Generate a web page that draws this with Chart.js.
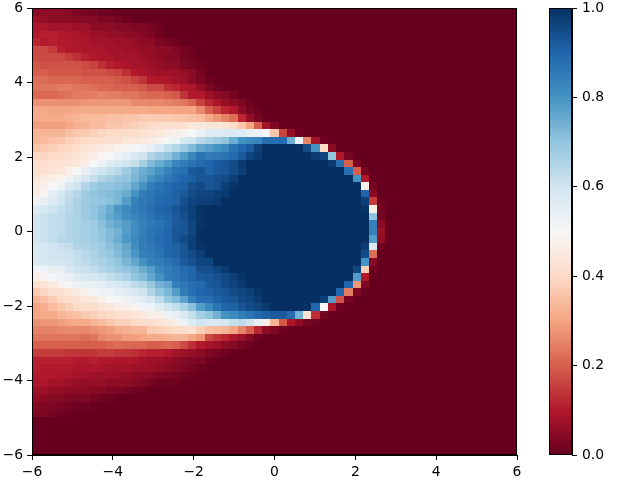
<!DOCTYPE html>
<html><head><meta charset="utf-8">
<style>html,body{margin:0;padding:0;background:#fff}canvas{position:absolute;left:0;top:0}</style>
<script src="https://cdn.jsdelivr.net/npm/chart.js@4"></script>
</head><body>
<canvas id="heat" width="640" height="480"></canvas>
<canvas id="bar" width="640" height="480"></canvas>
<script>
const xTicks=[-6,-4,-2,0,2,4,6];
const yTicks=[-6,-4,-2,0,2,4,6];
const cbTicks=[0,0.2,0.4,0.6,0.8,1];
const cmapStops=['#67001f','#b2182b','#d6604d','#f4a582','#fddbc7','#f7f7f7','#d1e5f0','#92c5de','#4393c3','#2166ac','#053061'];
const nCols=59,nRows=59;
// columns 0..20, rows listed from the top of the picture
const zLeft=[
[.05,.05,.05,.05,.04,.03,.02,.02,.01,.01],
[.07,.06,.05,.05,.05,.04,.04,.04,.03,.03,.02,.01],
[.09,.09,.08,.08,.08,.07,.07,.05,.05,.05,.04,.04,.03,.03,.02,.01],
[.10,.11,.11,.10,.09,.09,.08,.07,.07,.06,.06,.05,.05,.04,.03,.01],
[.12,.10,.11,.10,.10,.09,.09,.08,.08,.08,.07,.07,.06,.05,.05,.03,.02,.01],
[.17,.17,.15,.11,.10,.10,.09,.09,.09,.08,.08,.07,.07,.06,.06,.05,.05,.03,.02,.01],
[.17,.17,.17,.17,.15,.13,.11,.10,.09,.09,.08,.08,.08,.07,.06,.05,.04,.04,.02,.01],
[.19,.18,.18,.18,.18,.18,.17,.16,.13,.11,.10,.09,.08,.08,.07,.06,.05,.05,.03,.02,.01],
[.20,.20,.19,.19,.19,.19,.18,.18,.18,.17,.16,.13,.10,.09,.08,.07,.07,.07,.06,.05,.02],
[.22,.22,.21,.21,.21,.21,.20,.20,.20,.20,.19,.18,.16,.14,.10,.10,.09,.08,.07,.05,.03],
[.23,.23,.23,.24,.24,.23,.23,.22,.21,.21,.20,.20,.20,.19,.17,.17,.13,.12,.10,.09,.06],
[.21,.21,.21,.22,.23,.24,.24,.24,.25,.24,.24,.23,.23,.22,.21,.21,.20,.19,.14,.10,.10],
[.27,.27,.27,.27,.27,.27,.28,.28,.28,.28,.28,.28,.26,.26,.26,.26,.25,.24,.23,.21,.16],
[.31,.31,.30,.30,.30,.31,.31,.31,.31,.31,.31,.31,.31,.31,.30,.30,.30,.30,.30,.30,.26],
[.31,.31,.31,.31,.32,.33,.34,.34,.34,.35,.35,.36,.36,.37,.37,.37,.37,.36,.36,.35,.34],
[.29,.29,.29,.29,.30,.32,.33,.34,.34,.36,.36,.37,.38,.39,.40,.41,.41,.42,.42,.44,.45],
[.33,.33,.33,.33,.35,.36,.37,.38,.39,.40,.40,.41,.41,.42,.43,.44,.46,.47,.48,.50,.53],
[.33,.34,.35,.36,.38,.39,.40,.41,.41,.42,.42,.44,.44,.45,.46,.48,.51,.53,.58,.60,.64],
[.36,.37,.38,.39,.40,.42,.43,.44,.45,.46,.48,.49,.51,.52,.55,.58,.62,.65,.68,.72,.76],
[.39,.39,.40,.41,.42,.43,.45,.46,.49,.50,.53,.55,.58,.60,.65,.68,.70,.74,.78,.83,.87],
[.41,.41,.42,.42,.43,.44,.47,.50,.53,.56,.58,.60,.62,.67,.72,.75,.78,.83,.85,.87,.89],
[.42,.42,.43,.44,.47,.50,.54,.58,.60,.62,.64,.68,.72,.75,.77,.80,.84,.87,.88,.92,.93],
[.44,.45,.47,.49,.52,.56,.59,.62,.65,.67,.69,.70,.73,.76,.80,.83,.86,.88,.90,.91,.93],
[.46,.47,.50,.53,.58,.60,.65,.68,.70,.70,.71,.72,.76,.80,.85,.87,.89,.90,.91,.94,.95],
[.46,.49,.55,.58,.62,.64,.68,.70,.71,.72,.73,.75,.80,.85,.87,.88,.89,.91,.92,.95,.96],
[.52,.54,.57,.60,.63,.66,.68,.69,.70,.71,.73,.78,.84,.86,.87,.89,.90,.91,.94,.96,.97],
[.57,.59,.60,.62,.64,.66,.68,.70,.72,.75,.79,.82,.85,.86,.88,.90,.91,.93,.95,.97,.99],
[.60,.61,.62,.63,.65,.66,.68,.70,.73,.76,.78,.81,.83,.85,.87,.89,.90,.92,.94,.97,.99],
[.60,.61,.62,.63,.65,.66,.67,.68,.71,.74,.76,.78,.81,.84,.86,.87,.89,.92,.93,.96,.99],
[.60,.61,.62,.63,.65,.66,.67,.68,.70,.72,.74,.78,.81,.84,.87,.88,.90,.93,.93,.96,1],
[.60,.61,.62,.64,.65,.66,.67,.68,.70,.72,.75,.79,.82,.85,.87,.89,.90,.93,.95,.97,1],
[.58,.59,.60,.61,.62,.65,.66,.67,.68,.71,.73,.76,.81,.85,.86,.88,.90,.91,.93,.97,.99],
[.58,.59,.60,.60,.61,.62,.64,.66,.68,.69,.72,.75,.79,.84,.85,.87,.90,.91,.93,.95,.97],
[.57,.58,.59,.59,.60,.62,.63,.65,.66,.68,.70,.73,.76,.80,.84,.85,.87,.89,.92,.94,.96],
[.51,.53,.54,.55,.58,.60,.61,.62,.65,.66,.68,.70,.72,.75,.78,.83,.85,.87,.89,.90,.94],
[.46,.49,.51,.53,.54,.56,.58,.59,.60,.62,.64,.66,.70,.72,.76,.80,.85,.86,.88,.90,.92],
[.42,.43,.45,.48,.51,.53,.54,.54,.55,.57,.58,.60,.63,.65,.69,.74,.76,.84,.86,.88,.89],
[.37,.39,.41,.42,.44,.46,.48,.51,.52,.53,.55,.56,.58,.60,.65,.70,.73,.78,.85,.88,.90],
[.33,.35,.37,.40,.41,.42,.44,.45,.47,.50,.51,.52,.54,.56,.59,.63,.69,.72,.77,.84,.88],
[.30,.32,.34,.36,.38,.40,.41,.41,.43,.44,.46,.47,.48,.52,.53,.56,.60,.62,.66,.71,.78],
[.30,.31,.31,.33,.34,.35,.37,.38,.39,.40,.41,.42,.43,.45,.47,.47,.52,.55,.58,.62,.67],
[.27,.28,.28,.29,.30,.31,.31,.33,.34,.36,.38,.38,.40,.41,.41,.43,.45,.47,.53,.57,.60],
[.25,.25,.25,.26,.26,.26,.26,.27,.28,.29,.31,.32,.33,.33,.37,.38,.39,.40,.41,.42,.38],
[.23,.23,.23,.23,.23,.23,.22,.23,.26,.27,.27,.29,.29,.30,.31,.31,.32,.33,.33,.30,.28],
[.20,.20,.20,.20,.20,.20,.20,.20,.20,.21,.22,.21,.21,.21,.20,.20,.21,.20,.17,.13,.10],
[.15,.15,.15,.15,.14,.14,.14,.14,.15,.15,.14,.14,.13,.12,.11,.11,.10,.08,.07,.06,.05],
[.11,.11,.11,.11,.11,.10,.10,.11,.10,.10,.09,.09,.09,.08,.07,.07,.06,.05,.04,.03,.03],
[.11,.10,.10,.10,.10,.09,.09,.09,.09,.08,.08,.08,.07,.07,.07,.06,.05,.04,.03,.02,.01],
[.10,.10,.10,.09,.09,.08,.08,.07,.07,.07,.07,.06,.05,.05,.04,.03,.03,.02,.01,.01],
[.09,.09,.08,.08,.07,.06,.06,.06,.06,.05,.05,.05,.04,.03,.02,.01,.01,.01],
[.07,.07,.06,.06,.05,.05,.05,.04,.04,.03,.03,.02,.01,.01],
[.06,.05,.04,.04,.03,.03,.03,.02,.01,.01],
[.04,.03,.03,.02,.02,.01,.01],
[.03,.03,.02,.01,.01],
[],[],[],[],[]
];
// columns 21 onward, same rows
const zRight=[
[],[],[],[],[],[],[],[],[],
[.01],
[.03,.01],
[.07,.05,.04,.02],
[.12,.09,.06,.05,.03,.01],
[.20,.16,.12,.10,.05,.02,.01],
[.31,.28,.25,.22,.12,.06,.02],
[.44,.44,.43,.40,.36,.30,.20,.08,.03],
[.57,.57,.57,.57,.56,.54,.53,.50,.36,.16,.06,.01],
[.66,.68,.70,.75,.80,.82,.83,.88,.88,.89,.75,.53,.25,.08,.01],
[.78,.80,.82,.87,.90,.92,.97,1,1,1,1,1,.95,.80,.40,.05],
[.85,.86,.87,.89,.92,.96,.98,1,1,1,1,1,1,.98,.96,.70,.10,.02],
[.90,.92,.93,.95,.98,1,1,1,1,1,1,1,1,1,1,.98,.88,.20,.03],
[.90,.92,.93,.95,.97,1,1,1,1,1,1,1,1,1,1,1,1,.88,.20,.02],
[.93,.94,.95,.97,1,1,1,1,1,1,1,1,1,1,1,1,1,1,.80,.10],
[.93,.94,.97,.99,1,1,1,1,1,1,1,1,1,1,1,1,1,1,1,.47,.02],
[.96,.97,.98,1,1,1,1,1,1,1,1,1,1,1,1,1,1,1,1,.90,.05],
[.97,.98,1,1,1,1,1,1,1,1,1,1,1,1,1,1,1,1,1,.97,.15,.01],
[1,1,1,1,1,1,1,1,1,1,1,1,1,1,1,1,1,1,1,.99,.47,.02],
[1,1,1,1,1,1,1,1,1,1,1,1,1,1,1,1,1,1,1,1,.70,.02],
[1,1,1,1,1,1,1,1,1,1,1,1,1,1,1,1,1,1,1,1,.84,.05],
[1,1,1,1,1,1,1,1,1,1,1,1,1,1,1,1,1,1,1,1,.84,.07],
[1,1,1,1,1,1,1,1,1,1,1,1,1,1,1,1,1,1,1,1,.78,.06],
[1,1,1,1,1,1,1,1,1,1,1,1,1,1,1,1,1,1,1,.98,.57,.01],
[1,1,1,1,1,1,1,1,1,1,1,1,1,1,1,1,1,1,1,.95,.22],
[.96,1,1,1,1,1,1,1,1,1,1,1,1,1,1,1,1,1,1,.80,.04],
[.94,.96,.98,1,1,1,1,1,1,1,1,1,1,1,1,1,1,1,.96,.38,.01],
[.93,.94,.95,.97,.99,1,1,1,1,1,1,1,1,1,1,1,1,1,.78,.10],
[.92,.93,.95,.96,.98,1,1,1,1,1,1,1,1,1,1,1,1,.90,.28,.03],
[.91,.92,.93,.95,.96,.97,.99,1,1,1,1,1,1,1,1,1,.90,.24,.03],
[.88,.91,.92,.93,.95,.96,.98,1,1,1,1,1,1,1,.97,.78,.18,.02],
[.82,.87,.90,.91,.93,.95,.96,.98,1,1,1,1,1,.90,.50,.09,.01],
[.70,.74,.80,.82,.85,.87,.89,.91,.92,.92,.89,.74,.42,.13,.02],
[.58,.58,.59,.62,.63,.60,.54,.47,.33,.19,.09,.05,.02,.01],
[.35,.34,.33,.30,.25,.20,.12,.05,.03,.01],
[.17,.14,.12,.09,.07,.04,.01],
[.08,.07,.05,.04,.02,.01],
[.03,.02,.01],
[.01]
];
const cellW=12/nCols,cellH=12/nRows;
const cells=[];
for(let r=0;r<nRows;r++){
  const row=(zLeft[r]||[]).slice();
  while(row.length<21)row.push(0);
  const full=row.concat(zRight[r]||[]);
  for(let c=0;c<nCols;c++){
    cells.push({x:-6+(c+.5)*cellW,y:6-(r+.5)*cellH,v:full[c]||0});
  }
}
function cmap(t){
  const p=Math.max(0,Math.min(1,t))*(cmapStops.length-1),i=Math.min(Math.floor(p),cmapStops.length-2),f=p-i;
  const a=cmapStops[i],b=cmapStops[i+1],ch=k=>{const u=parseInt(a.substr(k,2),16),w=parseInt(b.substr(k,2),16);return Math.round(u+(w-u)*f)};
  return `rgb(${ch(1)},${ch(3)},${ch(5)})`;
}
const FONT={family:'"DejaVu Sans"',size:13.9};
const minus=v=>String(v).replace('-','\u2212');
const axisBase=(ticksList,fmt)=>({
  type:'linear',min:ticksList[0],max:ticksList[ticksList.length-1],
  afterBuildTicks:s=>{s.ticks=ticksList.map(value=>({value}))},
  border:{display:true,color:'#000',width:1},
  grid:{display:true,drawOnChartArea:false,drawTicks:true,tickLength:5,color:'#000',lineWidth:1},
  ticks:{color:'#000',font:FONT,padding:4,autoSkip:false,maxRotation:0,callback:fmt}
});
const frame={id:'frame',afterDraw(ch){const a=ch.chartArea,c=ch.ctx;c.save();c.strokeStyle='#000';c.lineWidth=1;c.strokeRect(a.left+.5,a.top+.5,a.right-a.left-1,a.bottom-a.top-1);c.restore();}};
const px=v=>Math.round(+v.toFixed(3));
const heatmap={id:'heatmap',beforeDatasetsDraw(ch){
  const c=ch.ctx,sx=ch.scales.x,sy=ch.scales.y;
  ch.data.datasets[0].data.forEach(p=>{
    const l=px(sx.getPixelForValue(p.x-cellW/2)),r=px(sx.getPixelForValue(p.x+cellW/2));
    const t=px(sy.getPixelForValue(p.y+cellH/2)),b=px(sy.getPixelForValue(p.y-cellH/2));
    c.fillStyle=cmap(p.v);c.fillRect(l,t,r-l,b-t);
  });
}};
new Chart(document.getElementById('heat'),{
  type:'scatter',
  data:{datasets:[{label:'z',data:cells,pointRadius:0,pointHoverRadius:0}]},
  options:{responsive:false,animation:false,events:[],
    layout:{padding:{left:0,top:8,right:123,bottom:0}},
    plugins:{legend:{display:false},tooltip:{enabled:false}},
    scales:{
      x:{...axisBase(xTicks,minus),afterFit:s=>{s.height=25;s.paddingLeft=0;s.paddingRight=0}},
      y:{...axisBase(yTicks,minus),afterFit:s=>{s.width=32;s.paddingTop=0;s.paddingBottom=0}}
    }
  },
  plugins:[heatmap,frame]
});
const cbAxis=axisBase(cbTicks,v=>v.toFixed(1));
cbAxis.ticks.padding=5;
new Chart(document.getElementById('bar'),{
  type:'bar',
  data:{labels:['colorbar'],datasets:[{data:[[0,1]],barPercentage:1,categoryPercentage:1,
    backgroundColor:(ctx)=>{
      const a=ctx.chart.chartArea;if(!a)return '#000';
      const g=ctx.chart.ctx.createLinearGradient(0,a.bottom,0,a.top);
      cmapStops.forEach((col,i)=>g.addColorStop(i/(cmapStops.length-1),col));
      return g;
    }}]},
  options:{responsive:false,animation:false,events:[],
    layout:{padding:{left:549,top:8,right:0,bottom:25}},
    plugins:{legend:{display:false},tooltip:{enabled:false}},
    scales:{
      x:{display:false},
      y:{...cbAxis,position:'right',afterFit:s=>{s.width=68;s.paddingTop=0;s.paddingBottom=0}}
    }
  },
  plugins:[frame]
});
</script>
</body></html>
